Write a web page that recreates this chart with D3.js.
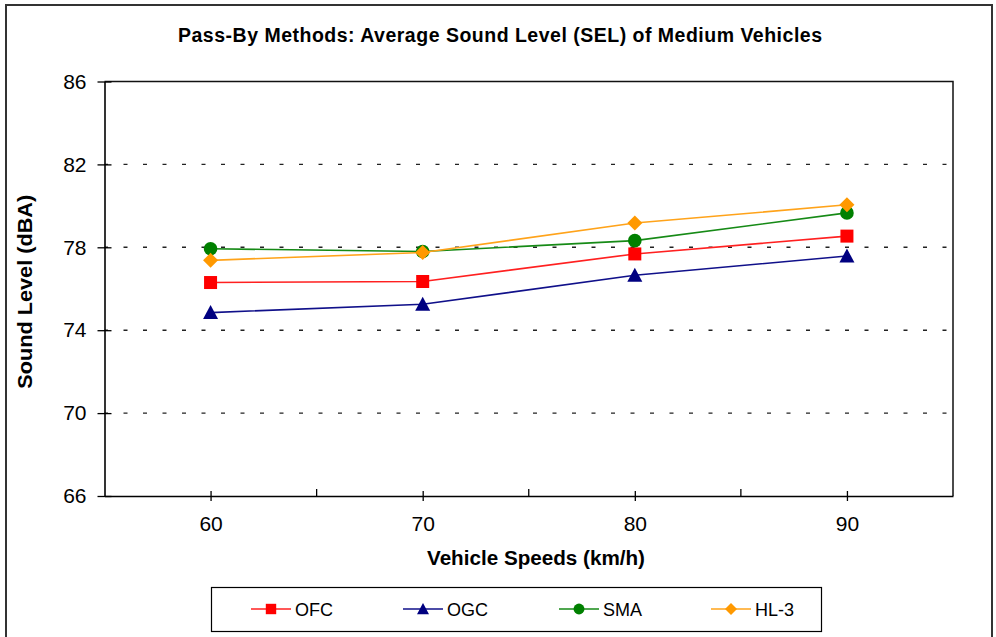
<!DOCTYPE html>
<html>
<head>
<meta charset="utf-8">
<script src="https://cdn.jsdelivr.net/npm/d3@7/dist/d3.min.js"></script>
<style>
  html, body { margin: 0; padding: 0; background: #fff; }
  svg { display: block; font-family: Arial, "Liberation Sans", sans-serif; }
</style>
</head>
<body>
<svg id="chart" width="996" height="637"></svg>
<script>
// Average pass-by sound level (SEL) of medium vehicles, by surface type
const speeds = [60, 70, 80, 90];
const seriesNames = ["OFC", "OGC", "SMA", "HL-3"];
const ofc = [76.3, 76.35, 77.68, 78.54];
const ogc = [74.85, 75.25, 76.65, 77.58];
const sma = [77.93, 77.8, 78.32, 79.66];
const hl3 = [77.37, 77.75, 79.17, 80.05];
const yTicks = [66, 70, 74, 78, 82, 86];
const xMajorTicks = [60, 70, 80, 90];
const xMinorTicks = [65, 75, 85];

const colors = { "OFC": "#FF0000", "OGC": "#000080", "SMA": "#008000", "HL-3": "#FF9900" };
const lineColors = { "OFC": "#FF2020", "OGC": "#10108A", "SMA": "#168A16", "HL-3": "#FFA31A" };
const shapes = { "OFC": "square", "OGC": "triangle", "SMA": "circle", "HL-3": "diamond" };
const valuesBySeries = { "OFC": ofc, "OGC": ogc, "SMA": sma, "HL-3": hl3 };

const svg = d3.select("#chart");

const plot = { left: 104.5, right: 953, top: 81.5, bottom: 496 };
const x = d3.scaleLinear().domain([55, 95]).range([plot.left, plot.right]);
const y = d3.scaleLinear().domain([66, 86]).range([plot.bottom, plot.top]);

// outer chart frame
svg.append("rect")
  .attr("x", 6).attr("y", 5).attr("width", 986).attr("height", 640)
  .attr("fill", "#fff").attr("stroke", "#333").attr("stroke-width", 2);

// title
svg.append("text")
  .attr("x", 500).attr("y", 42)
  .attr("text-anchor", "middle")
  .attr("font-size", 19.5).attr("font-weight", "bold")
  .attr("textLength", 644).attr("lengthAdjust", "spacing")
  .text("Pass-By Methods: Average Sound Level (SEL) of Medium Vehicles");

// horizontal dashed gridlines
svg.append("g")
  .selectAll("line")
  .data(yTicks.filter(t => t > 66 && t < 86))
  .join("line")
  .attr("x1", plot.left).attr("x2", plot.right)
  .attr("y1", d => y(d)).attr("y2", d => y(d))
  .attr("stroke", "#222").attr("stroke-width", 1.4)
  .attr("stroke-dasharray", "4 15.5").attr("stroke-dashoffset", 0.5);

// plot frame: top and right edges
svg.append("path")
  .attr("d", `M${plot.left},${plot.top}H${plot.right}V${plot.bottom}`)
  .attr("fill", "none").attr("stroke", "#111").attr("stroke-width", 1.5);

// y axis with crossing ticks
const yAxis = d3.axisLeft(y).tickValues(yTicks).tickSize(0).tickFormat(d3.format("d"));
const gy = svg.append("g").attr("transform", `translate(${plot.left},0)`).call(yAxis);
gy.attr("font-size", 21);
gy.select(".domain").attr("stroke", "#000").attr("stroke-width", 1.6);
gy.selectAll(".tick text").attr("x", -18).attr("fill", "#000")
  .attr("font-family", "Arial, 'Liberation Sans', sans-serif");
gy.selectAll(".tick").append("line")
  .attr("x1", -7).attr("x2", 7).attr("stroke", "#000").attr("stroke-width", 1.3);

// x axis: major crossing ticks with labels, minor inside ticks
const xAxis = d3.axisBottom(x).tickValues(xMajorTicks).tickSize(0).tickFormat(d3.format("d"));
const gx = svg.append("g").attr("transform", `translate(0,${plot.bottom})`).call(xAxis);
gx.attr("font-size", 21);
gx.select(".domain").attr("stroke", "#000").attr("stroke-width", 1.6);
gx.selectAll(".tick text").attr("y", 20).attr("dy", "0.71em").attr("fill", "#000")
  .attr("font-family", "Arial, 'Liberation Sans', sans-serif");
gx.selectAll(".tick").append("line")
  .attr("y1", -5).attr("y2", 5).attr("stroke", "#000").attr("stroke-width", 1.3);
svg.append("g")
  .selectAll("line")
  .data(xMinorTicks)
  .join("line")
  .attr("x1", d => x(d)).attr("x2", d => x(d))
  .attr("y1", plot.bottom - 7).attr("y2", plot.bottom)
  .attr("stroke", "#000").attr("stroke-width", 1.3);

// axis titles
svg.append("text")
  .attr("transform", `translate(32,${(plot.top + plot.bottom) / 2 + 3}) rotate(-90)`)
  .attr("text-anchor", "middle")
  .attr("font-size", 20).attr("font-weight", "bold")
  .attr("textLength", 194).attr("lengthAdjust", "spacingAndGlyphs")
  .text("Sound Level (dBA)");
svg.append("text")
  .attr("x", 536).attr("y", 565)
  .attr("text-anchor", "middle")
  .attr("font-size", 20).attr("font-weight", "bold")
  .attr("textLength", 218).attr("lengthAdjust", "spacingAndGlyphs")
  .text("Vehicle Speeds (km/h)");

// marker drawing, sized by scale factor k
function drawMarker(g, shape, color, k) {
  if (shape === "square") {
    const h = 6.5 * k;
    g.append("rect").attr("x", -h).attr("y", -h).attr("width", 2 * h).attr("height", 2 * h).attr("fill", color);
  } else if (shape === "triangle") {
    g.append("path").attr("d", `M0,${-7.5 * k}L${7.5 * k},${6.5 * k}L${-7.5 * k},${6.5 * k}Z`).attr("fill", color);
  } else if (shape === "circle") {
    g.append("circle").attr("r", 6.8 * k).attr("fill", color);
  } else {
    const h = 7.5 * k;
    g.append("path").attr("d", `M0,${-h}L${h},0L0,${h}L${-h},0Z`).attr("fill", color);
  }
}

// series lines and markers
const line = d3.line().x((d, i) => x(speeds[i])).y(d => y(d));
seriesNames.forEach(name => {
  const vals = valuesBySeries[name];
  const g = svg.append("g");
  g.append("path").datum(vals).attr("d", line)
    .attr("fill", "none").attr("stroke", lineColors[name]).attr("stroke-width", 1.6);
  vals.forEach((v, i) => {
    const m = g.append("g").attr("transform", `translate(${x(speeds[i])},${y(v)})`);
    drawMarker(m, shapes[name], colors[name], 1);
  });
});

// legend
svg.append("rect")
  .attr("x", 211.5).attr("y", 587.5).attr("width", 610).attr("height", 44)
  .attr("fill", "#fff").attr("stroke", "#000").attr("stroke-width", 1.2);
const legendX = [251, 403, 559, 711];
seriesNames.forEach((name, i) => {
  const g = svg.append("g").attr("transform", `translate(${legendX[i]},609)`);
  g.append("line").attr("x1", 0).attr("x2", 40).attr("stroke", lineColors[name]).attr("stroke-width", 1.6);
  const m = g.append("g").attr("transform", "translate(20,0)");
  drawMarker(m, shapes[name], colors[name], 0.8);
  g.append("text").attr("x", 44).attr("y", 6.5).attr("font-size", 18).attr("fill", "#000").text(name);
});
</script>
</body>
</html>
